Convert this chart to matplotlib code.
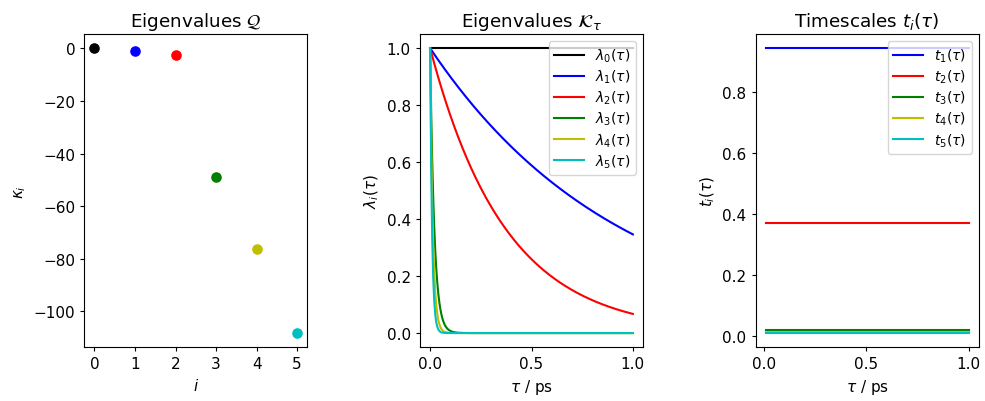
import numpy as np
import matplotlib.pyplot as plt

# eigenvalues of the rate matrix Q (1/ps)
indices = [0, 1, 2, 3, 4, 5]
kappa = [0.0, -1.06, -2.70, -49.1, -76.4, -108.2]
colors = ['k', 'b', 'r', 'g', 'y', 'c']

tau = np.linspace(0.0, 1.0, 200)
tau_ts = np.linspace(0.01, 1.0, 200)

plt.rcParams['font.size'] = 11
plt.rcParams['legend.fontsize'] = 10
plt.rcParams['legend.labelspacing'] = 0.27
plt.rcParams['legend.handlelength'] = 2.15
plt.rcParams['xtick.major.size'] = 3.1
plt.rcParams['ytick.major.size'] = 3.1
plt.rcParams['lines.markersize'] = 6.6

fig = plt.figure(figsize=(9.85, 4.02), dpi=100)
ax1 = fig.add_axes([0.0856, 0.1336, 0.2264, 0.7793])
ax2 = fig.add_axes([0.4264, 0.1336, 0.2264, 0.7793])
ax3 = fig.add_axes([0.7672, 0.1336, 0.2264, 0.7793])

for i, k in enumerate(kappa):
    ax1.plot(indices[i], k, 'o', color=colors[i])
ax1.set_xticks(indices)
ax1.set_title(r'Eigenvalues $\mathcal{Q}$')
ax1.set_xlabel(r'$i$')
ax1.set_ylabel(r'$\kappa_i$')

# eigenvalues of the transfer operator K_tau = exp(tau Q)
for i, k in enumerate(kappa):
    ax2.plot(tau, np.exp(k * tau), color=colors[i], label=r'$\lambda_{%d}(\tau)$' % i)
ax2.set_title(r'Eigenvalues $\mathcal{K}_\tau$')
ax2.set_xlabel(r'$\tau$ / ps')
ax2.set_ylabel(r'$\lambda_i(\tau)$')
ax2.legend(loc='upper right')

# implied timescales t_i = -tau / ln(lambda_i)
for i in range(1, len(kappa)):
    lam = np.exp(kappa[i] * tau_ts)
    ax3.plot(tau_ts, -tau_ts / np.log(lam), color=colors[i], label=r'$t_{%d}(\tau)$' % i)
ax3.set_title(r'Timescales $t_i(\tau)$')
ax3.set_xlabel(r'$\tau$ / ps')
ax3.set_ylabel(r'$t_i(\tau)$')
ax3.legend(loc='upper right')

fig.savefig('out.png', dpi=100)
